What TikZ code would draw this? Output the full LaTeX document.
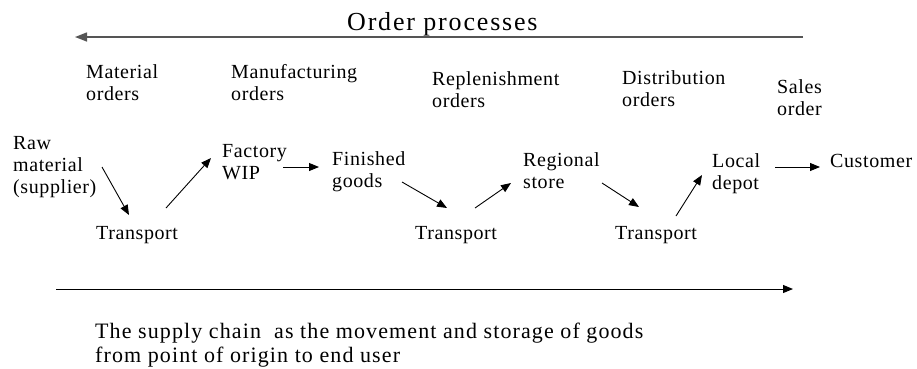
\documentclass[tikz,border=0pt]{standalone}
\usepackage{fontspec}
\setmainfont{Liberation Serif}[LetterSpace=3]
\newfontfamily\titlefont{Liberation Serif}[LetterSpace=7]
\newfontfamily\capfont{Liberation Serif}[LetterSpace=5]
\usetikzlibrary{arrows.meta}
\definecolor{topgrey}{HTML}{555555}
\tikzset{
  lbl/.style={anchor=base west, inner sep=0pt, align=left, font=\fontsize{20}{22}\selectfont},
  flow/.style={-{Triangle[length=10pt,width=8pt]}, line width=0.9pt, black},
}
\begin{document}
\begin{tikzpicture}[x=1pt,y=-1pt]
\useasboundingbox (0,0) rectangle (917,368);
% title and order arrow
\node[anchor=base west, inner sep=0pt, font=\titlefont\fontsize{26}{28}\selectfont] (title) at (347,30) {Order processes};
\coordinate (ordR) at (803,37);
\coordinate (ordL) at (75,37);
\draw[-{Triangle[length=12pt,width=9pt]}, line width=1.4pt, topgrey] (ordR) -- (ordL);
% order labels (anchor = baseline of last line)
\node[lbl] (mat) at (86,100) {Material\\orders};
\node[lbl] (man) at (231,100) {Manufacturing\\orders};
\node[lbl] (rep) at (432,107) {Replenishment\\orders};
\node[lbl] (dis) at (622,106) {Distribution\\orders};
\node[lbl] (sal) at (777,115) {Sales\\order};
% chain nodes
\node[lbl] (raw) at (13,193) {Raw\\material\\(supplier)};
\node[lbl] (t1) at (96,239) {Transport};
\node[lbl] (fac) at (222,179) {Factory\\WIP};
\node[lbl] (fin) at (332,187) {Finished\\goods};
\node[lbl] (t2) at (415,239) {Transport};
\node[lbl] (reg) at (523,188) {Regional\\store};
\node[lbl] (t3) at (615,239) {Transport};
\node[lbl] (loc) at (712,189) {Local\\depot};
\node[lbl] (cus) at (830,167) {Customer};
% connectors
\draw[flow] ([shift={(89,-26)}]raw.base west) -- ([shift={(33,-24)}]t1.base west);
\draw[flow] ([shift={(70,-31)}]t1.base west) -- ([shift={(-11,-21)}]fac.base west);
\draw[flow] ([shift={(61,-12)}]fac.base west) -- ([shift={(-13,-20)}]fin.base west);
\draw[flow] ([shift={(70,-5)}]fin.base west) -- ([shift={(32,-31)}]t2.base west);
\draw[flow] ([shift={(60,-31)}]t2.base west) -- ([shift={(-12,-5)}]reg.base west);
\draw[flow] ([shift={(79,-5)}]reg.base west) -- ([shift={(24,-32)}]t3.base west);
\draw[flow] ([shift={(61,-23)}]t3.base west) -- ([shift={(-10,-14)}]loc.base west);
\draw[flow] ([shift={(63,-22)}]loc.base west) -- ([shift={(-10,0)}]cus.base west);
% supply chain arrow
\coordinate (supL) at (56,289);
\coordinate (supR) at (793,289);
\draw[-{Triangle[length=10pt,width=8pt]}, line width=1pt] (supL) -- (supR);
\node[lbl, font=\capfont\fontsize{22}{24}\selectfont] (cap) at (95,362) {The supply chain\ \ as the movement and storage of goods\\from point of origin to end user};
\end{tikzpicture}
\end{document}
